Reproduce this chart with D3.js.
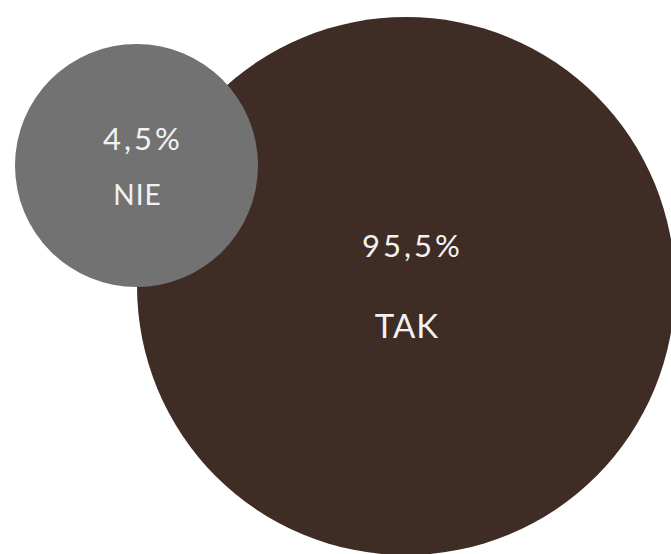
<!DOCTYPE html>
<html>
<head>
<meta charset="utf-8">
<script src="https://cdn.jsdelivr.net/npm/d3@7"></script>
<style>
  body { margin: 0; background: #fff; }
  text { font-family: Lato, "Open Sans", sans-serif; font-weight: 400; fill: #f2f2f2; }
</style>
</head>
<body>
<script>
// data
var labels = ["TAK", "NIE"];
var values = [95.5, 4.5];
var valueText = ["95,5%", "4,5%"];
var colors = ["#3e2c25", "#727272"];

var svgWidth = 671, svgHeight = 554;

var svg = d3.select("body").append("svg")
    .attr("width", svgWidth)
    .attr("height", svgHeight);

// bubble size and placement
var rScale = d3.scaleLinear().domain([4.5, 95.5]).range([121.5, 269]);
var xScale = d3.scalePoint().domain(["NIE", "TAK"]).range([136.5, 406]);
var yScale = d3.scalePoint().domain(["NIE", "TAK"]).range([165.5, 286]);
// text lines relative to the bubble centre
var pctOffset = d3.scaleLinear().domain([4.5, 95.5]).range([-15.5, -29]);
var nameOffset = d3.scaleLinear().domain([4.5, 95.5]).range([39.5, 52]);

var data = labels.map(function(d, i) {
  return {label: d, value: values[i], text: valueText[i], color: colors[i]};
});

// big bubble first so the small one sits on top
var g = svg.selectAll(".bubble")
    .data(data)
    .enter().append("g")
    .attr("class", "bubble")
    .attr("transform", function(d) { return "translate(" + xScale(d.label) + "," + yScale(d.label) + ")"; });

g.append("circle")
    .attr("r", function(d) { return rScale(d.value); })
    .style("fill", function(d) { return d.color; });

g.append("text")
    .attr("text-anchor", "middle")
    .attr("x", 6.5)
    .attr("y", function(d) { return pctOffset(d.value); })
    .style("font-size", "31px")
    .style("letter-spacing", "3px")
    .text(function(d) { return d.text; });

g.append("text")
    .attr("text-anchor", "middle")
    .attr("x", 1)
    .attr("y", function(d) { return nameOffset(d.value); })
    .style("font-size", function(d) { return (d.value > 50 ? 33 : 28) + "px"; })
    .style("letter-spacing", "1px")
    .text(function(d) { return d.label; });
</script>
</body>
</html>
